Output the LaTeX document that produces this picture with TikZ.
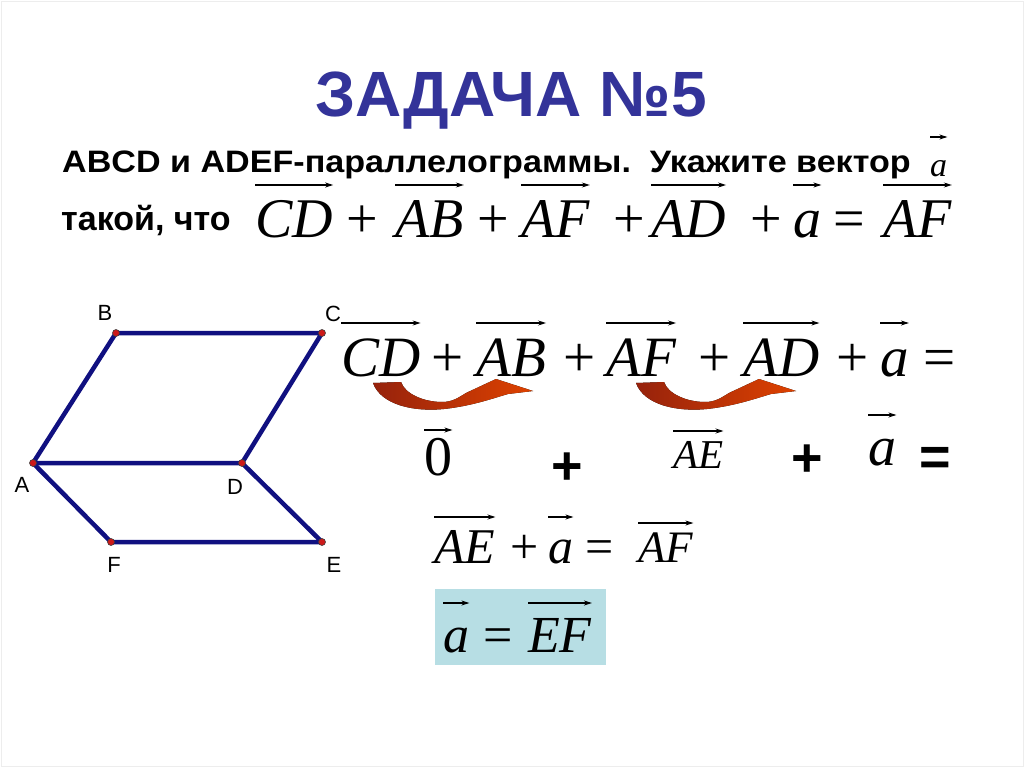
\documentclass[tikz,border=0pt]{standalone}
\usepackage{fontspec}
\setmainfont{Liberation Serif}
\newfontfamily\sans{Liberation Sans}
\newfontfamily\widesans[FakeStretch=1.1]{Liberation Sans}
\usetikzlibrary{arrows.meta}
\definecolor{titleblue}{RGB}{51,51,153}
\definecolor{navy}{RGB}{16,16,128}
\definecolor{dotred}{RGB}{205,25,25}
\definecolor{answer}{RGB}{183,222,228}
\definecolor{swoopdark}{RGB}{150,34,12}
\definecolor{swooplight}{RGB}{222,66,0}
\tikzset{
  mth/.style={font=\fontsize{#1}{#1}\selectfont\itshape, inner sep=0pt, anchor=base west},
  op/.style={font=\fontsize{#1}{#1}\selectfont, inner sep=0pt, anchor=base west},
  bigop/.style={font=\sans\bfseries\fontsize{54}{54}\selectfont, inner sep=0pt},
  vecline/.style={line width=1.2pt, -{Stealth[length=8pt,width=5pt]}},
  side/.style={navy, line width=4.5pt, line join=round},
  dot/.style={circle, fill=dotred, draw=black!75, line width=0.6pt, inner sep=0pt, minimum size=7pt},
  lbl/.style={font=\sans\fontsize{22}{22}\selectfont, inner sep=0pt},
  swoop/.style={left color=swoopdark, right color=swooplight, draw=none}
}
\newcommand\vecbar[2]{\draw[vecline] (#1.west |- 0,#2) -- (#1.east |- 0,#2);}
\begin{document}
\begin{tikzpicture}[x=1pt,y=-1pt]
\useasboundingbox (0,0) rectangle (1024,767);
\draw[black!7] (1,1) rectangle (1023,766);
% title and task
\node[font=\sans\bfseries\fontsize{64}{64}\selectfont, text=titleblue, inner sep=0pt, anchor=base] (title) at (511,117) {ЗАДАЧА №5};
\node[font=\widesans\bfseries\fontsize{31}{31}\selectfont, inner sep=0pt, anchor=base west] (task) at (62,173) {ABCD и ADEF-параллелограммы.\ \ Укажите вектор};
\node[mth=34] (a0) at (930,177) {a};
\vecbar{a0}{137}
\node[font=\sans\bfseries\fontsize{34}{34}\selectfont, inner sep=0pt, anchor=base west] (such) at (61,230) {такой, что};
% given equation
\node[mth=56] (cd1) at (255,237) {CD};
\node[op=56] (p11) at (346,237) {+};
\node[mth=56] (ab1) at (395,237) {AB};
\node[op=56] (p12) at (477,237) {+};
\node[mth=56] (af1) at (521,237) {AF};
\node[op=56] (p13) at (613,237) {+};
\node[mth=56] (ad1) at (651,237) {AD};
\node[op=56] (p14) at (750,237) {+};
\node[mth=56] (a1) at (793,237) {a};
\node[op=56] (e1) at (833,237) {=};
\node[mth=56] (af1r) at (883,237) {AF};
\foreach \n in {cd1,ab1,af1,ad1,a1,af1r} {\vecbar{\n}{185}}
% figure
\coordinate (A) at (33,463);
\coordinate (B) at (116,333);
\coordinate (C) at (322,333);
\coordinate (D) at (242,463);
\coordinate (E) at (322,542);
\coordinate (F) at (111,542);
\draw[side] (A) -- (B) -- (C) -- (D) -- cycle;
\draw[side] (A) -- (F) -- (E) -- (D);
\foreach \p in {A,B,C,D,E,F} \node[dot] (dot\p) at (\p) {};
\node[lbl] (lA) at (22,485) {A};
\node[lbl] (lB) at (105,313) {B};
\node[lbl] (lC) at (333,314) {C};
\node[lbl] (lD) at (235,487) {D};
\node[lbl] (lE) at (334,565) {E};
\node[lbl] (lF) at (114,565) {F};
% solution
\node[mth=57] (cd2) at (341,376) {CD};
\node[op=57] (p21) at (431,376) {+};
\node[mth=57] (ab2) at (476,376) {AB};
\node[op=57] (p22) at (563,376) {+};
\node[mth=57] (af2) at (606,376) {AF};
\node[op=57] (p23) at (698,376) {+};
\node[mth=57] (ad2) at (743,376) {AD};
\node[op=57] (p24) at (836,376) {+};
\node[mth=57] (a2) at (880,376) {a};
\node[op=57] (e2) at (923,376) {=};
\foreach \n in {cd2,ab2,af2,ad2,a2} {\vecbar{\n}{323}}
\def\bend{(373,383) .. controls (381,405) and (414,412) .. (444,409) .. controls (472,406) and (494,398) .. (508,394) -- (533,391) -- (496,379) -- (466,393) .. controls (458,398) and (452,402) .. (442,402) .. controls (424,402) and (405,394) .. (401,382) -- cycle}
\fill[swoop] \bend;
\fill[swoop, shift={(263,0)}] \bend;
\node[op=56] (zero) at (424,475) {0};
\vecbar{zero}{430}
\node[bigop] (p31) at (567,469) {+};
\node[mth=41] (ae3) at (673,468) {AE};
\vecbar{ae3}{431}
\node[bigop] (p32) at (807,461) {+};
\node[mth=56] (a3) at (868,465) {a};
\vecbar{a3}{415}
\node[bigop] (e3) at (935,461) {=};
\node[mth=50] (ae4) at (434,563) {AE};
\node[op=50] (p41) at (510,563) {+};
\node[mth=50] (a4) at (548,563) {a};
\node[op=50] (e4) at (585,563) {=};
\node[mth=45] (af4) at (638,562) {AF};
\vecbar{ae4}{517}
\vecbar{a4}{517}
\vecbar{af4}{523}
\fill[answer] (435,589) rectangle (606,665);
\node[mth=52] (a5) at (443,652) {a};
\node[op=52] (e5) at (483,652) {=};
\node[mth=52] (ef5) at (528,652) {EF};
\vecbar{a5}{603}
\vecbar{ef5}{603}
\end{tikzpicture}
\end{document}
